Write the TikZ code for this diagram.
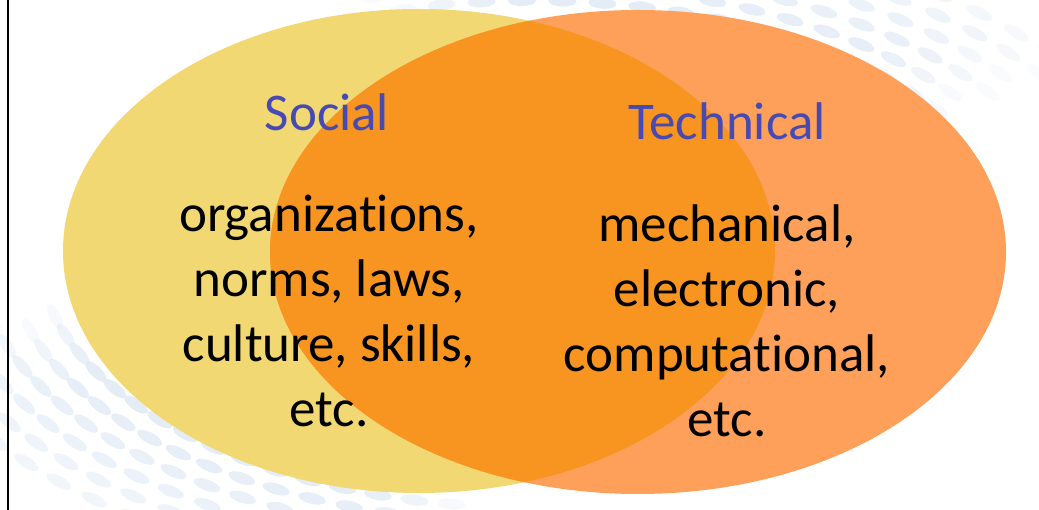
\documentclass[tikz,border=0pt]{standalone}
\usepackage{fontspec}
\setmainfont{Carlito}[Ligatures=NoCommon]
\usetikzlibrary{positioning}
\definecolor{socialyellow}{RGB}{241,216,114}
\definecolor{techorange}{RGB}{255,160,90}
\definecolor{bothorange}{RGB}{247,149,32}
\definecolor{titleblue}{RGB}{70,74,178}
\definecolor{dotblue}{RGB}{228,236,246}
\tikzset{title/.style={text=titleblue, font=\fontsize{53}{65}\selectfont, inner sep=0pt, anchor=base},
  body/.style={align=center, font=\fontsize{53}{65}\selectfont, inner sep=0pt, anchor=south},
  dash dot/.style={fill=dotblue}}

\begin{document}
\begin{tikzpicture}[x=1pt,y=1pt]
  \useasboundingbox (0,0) rectangle (1039,510);
  % faint rings of dashes behind the circles
  \foreach \a/\b in {30/110, 190/265}{
    \foreach \k in {0,...,5}{
      \foreach \i in {0,...,17}{
        \pgfmathsetmacro{\u}{\a+(\b-\a)*\i/17+2.2*mod(\k,2)}
        \pgfmathsetmacro{\s}{1.03+0.065*\k}
        \pgfmathsetmacro{\px}{532+478*\s*cos(\u)}
        \pgfmathsetmacro{\py}{256+246*\s*sin(\u)}
        \pgfmathsetmacro{\ang}{atan2(246*cos(\u),-478*sin(\u))}
        \pgfmathsetmacro{\op}{min(1,1.6*sin(180*\i/17))*(1-0.1*\k)}
        \fill[dash dot, fill opacity=\op, rotate around={\ang:(\px,\py)}] (\px,\py) ellipse (14 and 5.5);
      }
    }
  }
  % the two sets
  \fill[socialyellow] (419,259) ellipse (356 and 242);
  \fill[techorange] (638,258) ellipse (368 and 242);
  \begin{scope}
    \clip (419,259) ellipse (356 and 242);
    \fill[bothorange] (638,258) ellipse (368 and 242);
  \end{scope}
  \draw[line width=2.5pt] (8,0) -- (8,510);

  \node[title] (social) at (327,379) {Social};
  \node[title] (technical) at (727,370) {Technical};
  \node[body] (socialitems) at (329,83) {organizations,\\norms, laws,\\culture, skills,\\etc.};
  \node[body] (techitems) at (727,73) {mechanical,\\electronic,\\computational,\\etc.};
\end{tikzpicture}
\end{document}
